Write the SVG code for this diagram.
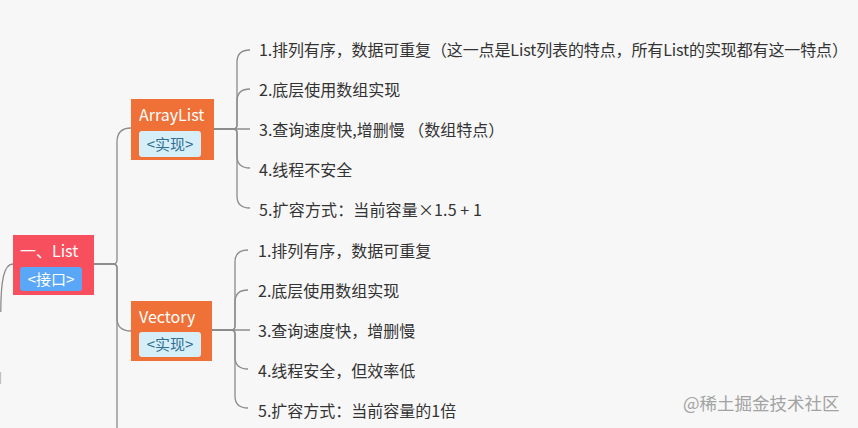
<svg xmlns="http://www.w3.org/2000/svg" width="858" height="428" viewBox="0 0 858 428">
<style>
text{font-family:"Microsoft YaHei","Noto Sans CJK SC","Noto Sans",sans-serif;}
.item{font-size:16px;fill:#333333;}
.title{font-size:16px;fill:#ffffff;}
.badge{font-size:15px;}
.conn path{fill:none;stroke:#8c8c8c;stroke-width:1.3;}
</style>
<rect x="0" y="0" width="858" height="428" fill="#f7f7f7"/>
<g class="conn" id="connectors">
  <path d="M0.8 312 C0.8 280 4 264 13 264"/>
  <path d="M0.5 372 V384" stroke-opacity="0.5"/>
  <path d="M94 264 H113 Q117 264 117 260 V142 Q117 128 131 128"/>
  <path d="M94 264 H113 Q117 264 117 268 V318 Q117 331 131 331"/>
  <path d="M94 264 H113 Q117 264 117 268 V428"/>
  <path d="M214 129 H250"/>
  <path d="M214 129 H233 Q237 129 237 125 V62 Q237 50 250 50"/>
  <path d="M214 129 H233 Q237 129 237 125 V101 Q237 89 250 89"/>
  <path d="M214 129 H233 Q237 129 237 133 V156 Q237 168 250 168"/>
  <path d="M214 129 H233 Q237 129 237 133 V196 Q237 208 250 208"/>
  <path d="M212 330 H250"/>
  <path d="M212 330 H231 Q235 330 235 326 V262 Q235 250 248 250"/>
  <path d="M212 330 H231 Q235 330 235 326 V302 Q235 290 248 290"/>
  <path d="M212 330 H231 Q235 330 235 334 V357 Q235 369 248 369"/>
  <path d="M212 330 H231 Q235 330 235 334 V396 Q235 408 248 408"/>
</g>
<g id="list">
  <rect x="13" y="235" width="81" height="60" fill="#f74f5d"/>
  <text class="title" x="20" y="257">一、List</text>
  <rect x="20" y="267" width="62" height="24" rx="3" fill="#5ba7f7"/>
  <text class="badge" x="51" y="285" fill="#ffffff" text-anchor="middle">&lt;接口&gt;</text>
</g>
<g id="arraylist">
  <rect x="131" y="99" width="83" height="61" fill="#ef7137"/>
  <text class="title" x="139" y="121">ArrayList</text>
  <rect x="139" y="131" width="62" height="26" rx="3" fill="#d6eef8"/>
  <text class="badge" x="170" y="150" fill="#2f6e92" text-anchor="middle">&lt;实现&gt;</text>
</g>
<g id="vectory">
  <rect x="131" y="301" width="81" height="60" fill="#ef7137"/>
  <text class="title" x="139" y="323">Vectory</text>
  <rect x="139" y="332" width="62" height="25" rx="3" fill="#d6eef8"/>
  <text class="badge" x="170" y="350" fill="#2f6e92" text-anchor="middle">&lt;实现&gt;</text>
</g>
<g id="arraylist-items">
  <text class="item" x="259" y="56" textLength="589" lengthAdjust="spacing">1.排列有序，数据可重复（这一点是List列表的特点，所有List的实现都有这一特点）</text>
  <text class="item" x="259" y="96">2.底层使用数组实现</text>
  <text class="item" x="259" y="136">3.查询速度快,增删慢 （数组特点）</text>
  <text class="item" x="259" y="176">4.线程不安全</text>
  <text class="item" x="259" y="216" textLength="223" lengthAdjust="spacing">5.扩容方式：当前容量×1.5 + 1</text>
</g>
<g id="vectory-items">
  <text class="item" x="258" y="257">1.排列有序，数据可重复</text>
  <text class="item" x="258" y="297">2.底层使用数组实现</text>
  <text class="item" x="258" y="337">3.查询速度快，增删慢</text>
  <text class="item" x="258" y="377">4.线程安全，但效率低</text>
  <text class="item" x="258" y="417">5.扩容方式：当前容量的1倍</text>
</g>
<text x="683" y="410" font-size="17.5" fill="#a3a3a3">@稀土掘金技术社区</text>
</svg>
